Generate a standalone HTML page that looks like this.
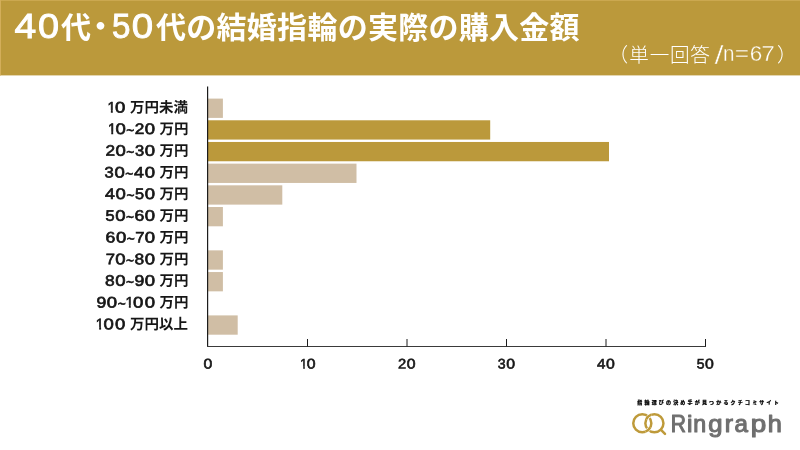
<!DOCTYPE html>
<html lang="ja">
<head>
<meta charset="utf-8">
<title>40代・50代の結婚指輪の実際の購入金額</title>
<style>
html,body{margin:0;padding:0;background:#fff;}
body{width:800px;height:450px;overflow:hidden;position:relative;font-family:"Liberation Sans","Noto Sans CJK JP",sans-serif;}
svg{display:block;position:absolute;left:0;top:0;}
text{font-family:"Liberation Sans","Noto Sans CJK JP",sans-serif;}
.jp{font-family:"Liberation Sans","Noto Sans CJK JP",sans-serif;}
.lat{font-family:"Liberation Sans",sans-serif;}
</style>
</head>
<body>
<svg width="800" height="450" viewBox="0 0 800 450">
<rect x="0" y="0" width="800" height="75.4" fill="#BB993B"/>
<rect x="0" y="0" width="800" height="1" fill="#CBA850"/><rect x="0" y="0" width="1" height="75.4" fill="#D3AE5A"/>
<text y="38" fill="#fff" font-size="30"><tspan class="lat" font-size="34.6" stroke="#fff" stroke-width="0.9"><tspan x="14.55" textLength="21.74" lengthAdjust="spacingAndGlyphs">4</tspan><tspan x="37.97" textLength="21.06" lengthAdjust="spacingAndGlyphs">0</tspan></tspan><tspan class="jp" font-weight="700" x="61">代</tspan><tspan class="jp" font-weight="700" x="85.4" dy="-0.8">・</tspan><tspan class="lat" font-size="34.6" dy="0.8" stroke="#fff" stroke-width="0.9"><tspan x="112.12" textLength="18.42" lengthAdjust="spacingAndGlyphs">5</tspan><tspan x="131.70" textLength="21.35" lengthAdjust="spacingAndGlyphs">0</tspan></tspan><tspan class="jp" font-weight="700" x="156" textLength="423.6" lengthAdjust="spacing">代の結婚指輪の実際の購入金額</tspan></text>
<text y="62" fill="#fff" font-size="19.6"><tspan class="jp" font-weight="300" x="608.5">（</tspan><tspan class="jp" font-weight="300" x="629.3" textLength="80.6" lengthAdjust="spacing">単一回答</tspan><tspan> </tspan><tspan class="lat" font-size="25" dy="2" stroke="#BB993B" stroke-width="0.5"><tspan x="714.55" textLength="9.10" lengthAdjust="spacingAndGlyphs">/</tspan></tspan><tspan class="lat" font-size="21.8" dy="-3" stroke="#BB993B" stroke-width="0.35"><tspan x="723.06" textLength="11.46" lengthAdjust="spacingAndGlyphs">n</tspan><tspan x="734.82" textLength="14.36" lengthAdjust="spacingAndGlyphs">=</tspan><tspan x="749.69" textLength="12.47" lengthAdjust="spacingAndGlyphs">6</tspan><tspan x="761.60" textLength="13.27" lengthAdjust="spacingAndGlyphs">7</tspan></tspan><tspan class="jp" font-weight="300" x="777" dy="1">）</tspan></text>
<rect x="208.0" y="98.60" width="14.9" height="19.3" fill="#D0BEA5"/>
<rect x="208.0" y="120.28" width="282.2" height="19.3" fill="#BB993B"/>
<rect x="208.0" y="141.96" width="401.0" height="19.3" fill="#BB993B"/>
<rect x="208.0" y="163.64" width="148.5" height="19.3" fill="#D0BEA5"/>
<rect x="208.0" y="185.32" width="74.3" height="19.3" fill="#D0BEA5"/>
<rect x="208.0" y="207.00" width="14.9" height="19.3" fill="#D0BEA5"/>
<rect x="208.0" y="250.36" width="14.9" height="19.3" fill="#D0BEA5"/>
<rect x="208.0" y="272.04" width="14.9" height="19.3" fill="#D0BEA5"/>
<rect x="208.0" y="315.40" width="29.7" height="19.3" fill="#D0BEA5"/>
<path d="M207.6 86.5 V347" fill="none" stroke="#1c1c1c" stroke-width="1.2"/>
<path d="M207 346.5 H706.0" fill="none" stroke="#3a3a3a" stroke-width="1.1"/>
<path d="M307.5 346.5 v-7.5 M407.0 346.5 v-7.5 M506.5 346.5 v-7.5 M606.0 346.5 v-7.5 M705.5 346.5 v-7.5" fill="none" stroke="#1c1c1c" stroke-width="1"/>
<g class="lat" font-size="13.9" fill="#161616" stroke="#161616" stroke-width="0.6">
<text y="368.5" transform="rotate(0.05 207.8 368.5)"><tspan x="203.40" textLength="8.81" lengthAdjust="spacingAndGlyphs">0</tspan></text>
<text y="368.5" transform="rotate(0.05 308.3 368.5)"><tspan x="300.36" textLength="6.87" lengthAdjust="spacingAndGlyphs">1</tspan><tspan x="306.86" textLength="8.81" lengthAdjust="spacingAndGlyphs">0</tspan></text>
<text y="368.5" transform="rotate(0.05 406.8 368.5)"><tspan x="398.02" textLength="8.19" lengthAdjust="spacingAndGlyphs">2</tspan><tspan x="406.65" textLength="8.81" lengthAdjust="spacingAndGlyphs">0</tspan></text>
<text y="368.5" transform="rotate(0.05 506.3 368.5)"><tspan x="497.72" textLength="7.87" lengthAdjust="spacingAndGlyphs">3</tspan><tspan x="506.15" textLength="8.81" lengthAdjust="spacingAndGlyphs">0</tspan></text>
<text y="368.5" transform="rotate(0.05 605.8 368.5)"><tspan x="596.94" textLength="8.45" lengthAdjust="spacingAndGlyphs">4</tspan><tspan x="606.13" textLength="8.81" lengthAdjust="spacingAndGlyphs">0</tspan></text>
<text y="368.5" transform="rotate(0.05 705.3 368.5)"><tspan x="696.74" textLength="7.77" lengthAdjust="spacingAndGlyphs">5</tspan><tspan x="705.11" textLength="8.81" lengthAdjust="spacingAndGlyphs">0</tspan></text>
</g>
<g fill="#fff" stroke="none"><rect x="299.80" y="366.26" width="3.36" height="3.34"/><rect x="304.86" y="366.26" width="2.76" height="3.34"/></g>
<g fill="#161616" font-size="14.8">
<text y="112.50" transform="rotate(0.05 150 112.50)"><tspan class="lat" font-size="15.2" stroke="#161616" stroke-width="0.65"><tspan x="107.53" textLength="8.09" lengthAdjust="spacingAndGlyphs">1</tspan><tspan x="115.10" textLength="10.30" lengthAdjust="spacingAndGlyphs">0</tspan></tspan><tspan> </tspan><tspan class="jp" font-weight="700" x="129.9" textLength="58.0" lengthAdjust="spacingAndGlyphs">万円未満</tspan></text>
<text y="134.00" transform="rotate(0.05 150 134.00)"><tspan class="lat" font-size="15.2" stroke="#161616" stroke-width="0.65"><tspan x="107.93" textLength="8.09" lengthAdjust="spacingAndGlyphs">1</tspan><tspan x="115.50" textLength="10.30" lengthAdjust="spacingAndGlyphs">0</tspan><tspan x="126.36" dy="1.4" textLength="7.98" lengthAdjust="spacingAndGlyphs">~</tspan><tspan x="134.76" dy="-1.4" textLength="9.58" lengthAdjust="spacingAndGlyphs">2</tspan><tspan x="144.80" textLength="10.30" lengthAdjust="spacingAndGlyphs">0</tspan></tspan><tspan> </tspan><tspan class="jp" font-weight="700" x="159.4" textLength="29.0" lengthAdjust="spacingAndGlyphs">万円</tspan></text>
<text y="155.75" transform="rotate(0.05 150 155.75)"><tspan class="lat" font-size="15.2" stroke="#161616" stroke-width="0.65"><tspan x="105.46" textLength="9.58" lengthAdjust="spacingAndGlyphs">2</tspan><tspan x="115.50" textLength="10.30" lengthAdjust="spacingAndGlyphs">0</tspan><tspan x="126.36" dy="1.4" textLength="7.98" lengthAdjust="spacingAndGlyphs">~</tspan><tspan x="134.99" dy="-1.4" textLength="9.21" lengthAdjust="spacingAndGlyphs">3</tspan><tspan x="144.80" textLength="10.30" lengthAdjust="spacingAndGlyphs">0</tspan></tspan><tspan> </tspan><tspan class="jp" font-weight="700" x="159.4" textLength="29.0" lengthAdjust="spacingAndGlyphs">万円</tspan></text>
<text y="177.50" transform="rotate(0.05 150 177.50)"><tspan class="lat" font-size="15.2" stroke="#161616" stroke-width="0.65"><tspan x="104.59" textLength="9.21" lengthAdjust="spacingAndGlyphs">3</tspan><tspan x="114.40" textLength="10.30" lengthAdjust="spacingAndGlyphs">0</tspan><tspan x="125.26" dy="1.4" textLength="7.98" lengthAdjust="spacingAndGlyphs">~</tspan><tspan x="134.12" dy="-1.4" textLength="9.88" lengthAdjust="spacingAndGlyphs">4</tspan><tspan x="144.80" textLength="10.30" lengthAdjust="spacingAndGlyphs">0</tspan></tspan><tspan> </tspan><tspan class="jp" font-weight="700" x="159.4" textLength="29.0" lengthAdjust="spacingAndGlyphs">万円</tspan></text>
<text y="199.00" transform="rotate(0.05 150 199.00)"><tspan class="lat" font-size="15.2" stroke="#161616" stroke-width="0.65"><tspan x="104.92" textLength="9.88" lengthAdjust="spacingAndGlyphs">4</tspan><tspan x="115.60" textLength="10.30" lengthAdjust="spacingAndGlyphs">0</tspan><tspan x="126.46" dy="1.4" textLength="7.98" lengthAdjust="spacingAndGlyphs">~</tspan><tspan x="135.07" dy="-1.4" textLength="9.09" lengthAdjust="spacingAndGlyphs">5</tspan><tspan x="144.80" textLength="10.30" lengthAdjust="spacingAndGlyphs">0</tspan></tspan><tspan> </tspan><tspan class="jp" font-weight="700" x="159.4" textLength="29.0" lengthAdjust="spacingAndGlyphs">万円</tspan></text>
<text y="220.75" transform="rotate(0.05 150 220.75)"><tspan class="lat" font-size="15.2" stroke="#161616" stroke-width="0.65"><tspan x="105.47" textLength="9.09" lengthAdjust="spacingAndGlyphs">5</tspan><tspan x="115.20" textLength="10.30" lengthAdjust="spacingAndGlyphs">0</tspan><tspan x="126.06" dy="1.4" textLength="7.98" lengthAdjust="spacingAndGlyphs">~</tspan><tspan x="134.43" dy="-1.4" textLength="9.82" lengthAdjust="spacingAndGlyphs">6</tspan><tspan x="144.80" textLength="10.30" lengthAdjust="spacingAndGlyphs">0</tspan></tspan><tspan> </tspan><tspan class="jp" font-weight="700" x="159.4" textLength="29.0" lengthAdjust="spacingAndGlyphs">万円</tspan></text>
<text y="242.50" transform="rotate(0.05 150 242.50)"><tspan class="lat" font-size="15.2" stroke="#161616" stroke-width="0.65"><tspan x="105.63" textLength="9.82" lengthAdjust="spacingAndGlyphs">6</tspan><tspan x="116.00" textLength="10.30" lengthAdjust="spacingAndGlyphs">0</tspan><tspan x="126.86" dy="1.4" textLength="7.98" lengthAdjust="spacingAndGlyphs">~</tspan><tspan x="135.27" dy="-1.4" textLength="9.24" lengthAdjust="spacingAndGlyphs">7</tspan><tspan x="144.80" textLength="10.30" lengthAdjust="spacingAndGlyphs">0</tspan></tspan><tspan> </tspan><tspan class="jp" font-weight="700" x="159.4" textLength="29.0" lengthAdjust="spacingAndGlyphs">万円</tspan></text>
<text y="264.25" transform="rotate(0.05 150 264.25)"><tspan class="lat" font-size="15.2" stroke="#161616" stroke-width="0.65"><tspan x="105.67" textLength="9.24" lengthAdjust="spacingAndGlyphs">7</tspan><tspan x="115.20" textLength="10.30" lengthAdjust="spacingAndGlyphs">0</tspan><tspan x="126.06" dy="1.4" textLength="7.98" lengthAdjust="spacingAndGlyphs">~</tspan><tspan x="134.57" dy="-1.4" textLength="9.66" lengthAdjust="spacingAndGlyphs">8</tspan><tspan x="144.80" textLength="10.30" lengthAdjust="spacingAndGlyphs">0</tspan></tspan><tspan> </tspan><tspan class="jp" font-weight="700" x="159.4" textLength="29.0" lengthAdjust="spacingAndGlyphs">万円</tspan></text>
<text y="285.75" transform="rotate(0.05 150 285.75)"><tspan class="lat" font-size="15.2" stroke="#161616" stroke-width="0.65"><tspan x="104.97" textLength="9.66" lengthAdjust="spacingAndGlyphs">8</tspan><tspan x="115.20" textLength="10.30" lengthAdjust="spacingAndGlyphs">0</tspan><tspan x="126.06" dy="1.4" textLength="7.98" lengthAdjust="spacingAndGlyphs">~</tspan><tspan x="134.50" dy="-1.4" textLength="9.81" lengthAdjust="spacingAndGlyphs">9</tspan><tspan x="144.80" textLength="10.30" lengthAdjust="spacingAndGlyphs">0</tspan></tspan><tspan> </tspan><tspan class="jp" font-weight="700" x="159.4" textLength="29.0" lengthAdjust="spacingAndGlyphs">万円</tspan></text>
<text y="307.50" transform="rotate(0.05 150 307.50)"><tspan class="lat" font-size="15.2" stroke="#161616" stroke-width="0.65"><tspan x="96.50" textLength="9.81" lengthAdjust="spacingAndGlyphs">9</tspan><tspan x="106.80" textLength="10.30" lengthAdjust="spacingAndGlyphs">0</tspan><tspan x="117.66" dy="1.4" textLength="7.98" lengthAdjust="spacingAndGlyphs">~</tspan><tspan x="125.53" dy="-1.4" textLength="8.09" lengthAdjust="spacingAndGlyphs">1</tspan><tspan x="133.10" textLength="10.30" lengthAdjust="spacingAndGlyphs">0</tspan><tspan x="144.80" textLength="10.30" lengthAdjust="spacingAndGlyphs">0</tspan></tspan><tspan> </tspan><tspan class="jp" font-weight="700" x="159.4" textLength="29.0" lengthAdjust="spacingAndGlyphs">万円</tspan></text>
<text y="329.25" transform="rotate(0.05 150 329.25)"><tspan class="lat" font-size="15.2" stroke="#161616" stroke-width="0.65"><tspan x="95.83" textLength="8.09" lengthAdjust="spacingAndGlyphs">1</tspan><tspan x="103.40" textLength="10.30" lengthAdjust="spacingAndGlyphs">0</tspan><tspan x="115.10" textLength="10.30" lengthAdjust="spacingAndGlyphs">0</tspan></tspan><tspan> </tspan><tspan class="jp" font-weight="700" x="129.9" textLength="58.0" lengthAdjust="spacingAndGlyphs">万円以上</tspan></text>
</g>
<g fill="#fff" stroke="none"><rect x="107.11" y="110.13" width="3.75" height="3.49"/><rect x="112.80" y="110.13" width="3.13" height="3.49"/><rect x="107.51" y="131.64" width="3.75" height="3.49"/><rect x="113.20" y="131.64" width="3.13" height="3.49"/><rect x="125.11" y="305.14" width="3.75" height="3.49"/><rect x="130.80" y="305.14" width="3.13" height="3.49"/><rect x="95.41" y="326.89" width="3.75" height="3.49"/><rect x="101.10" y="326.89" width="3.13" height="3.49"/></g>
<text class="jp" x="637.3" y="404" font-size="5" font-weight="900" fill="#000" stroke="#000" stroke-width="0.2" textLength="141.4" lengthAdjust="spacing">指輪選びの決め手が見つかるクチコミサイト</text>
<g fill="none" stroke="#BE9A3A" stroke-width="2.5"><circle cx="642.3" cy="423.2" r="9.05"/><circle cx="654.4" cy="423.2" r="9.05"/><path d="M646.27 419.23 A9.05 9.05 0 0 1 651.30 414.70" stroke="#fff" stroke-width="3.7"/><path d="M646.27 419.23 A9.05 9.05 0 0 1 651.30 414.70"/><path d="M650.43 427.17 A9.05 9.05 0 0 1 645.40 431.70" stroke="#fff" stroke-width="3.7"/><path d="M650.43 427.17 A9.05 9.05 0 0 1 645.40 431.70"/><path d="M661 429.8 L665 433.8" stroke-linecap="round"/></g>
<text class="lat" y="432" font-size="23.4" fill="#6f6f6f" stroke="#6f6f6f" stroke-width="1.1" stroke-linejoin="round"><tspan x="670.82" textLength="15.20" lengthAdjust="spacingAndGlyphs">R</tspan><tspan x="687.00" textLength="5.46" lengthAdjust="spacingAndGlyphs">i</tspan><tspan x="693.31" textLength="12.90" lengthAdjust="spacingAndGlyphs">n</tspan><tspan x="708.22" textLength="14.28" lengthAdjust="spacingAndGlyphs">g</tspan><tspan x="724.70" textLength="8.26" lengthAdjust="spacingAndGlyphs">r</tspan><tspan x="734.42" textLength="13.43" lengthAdjust="spacingAndGlyphs">a</tspan><tspan x="750.66" textLength="15.46" lengthAdjust="spacingAndGlyphs">p</tspan><tspan x="767.79" textLength="14.11" lengthAdjust="spacingAndGlyphs">h</tspan></text>
</svg>
</body>
</html>
